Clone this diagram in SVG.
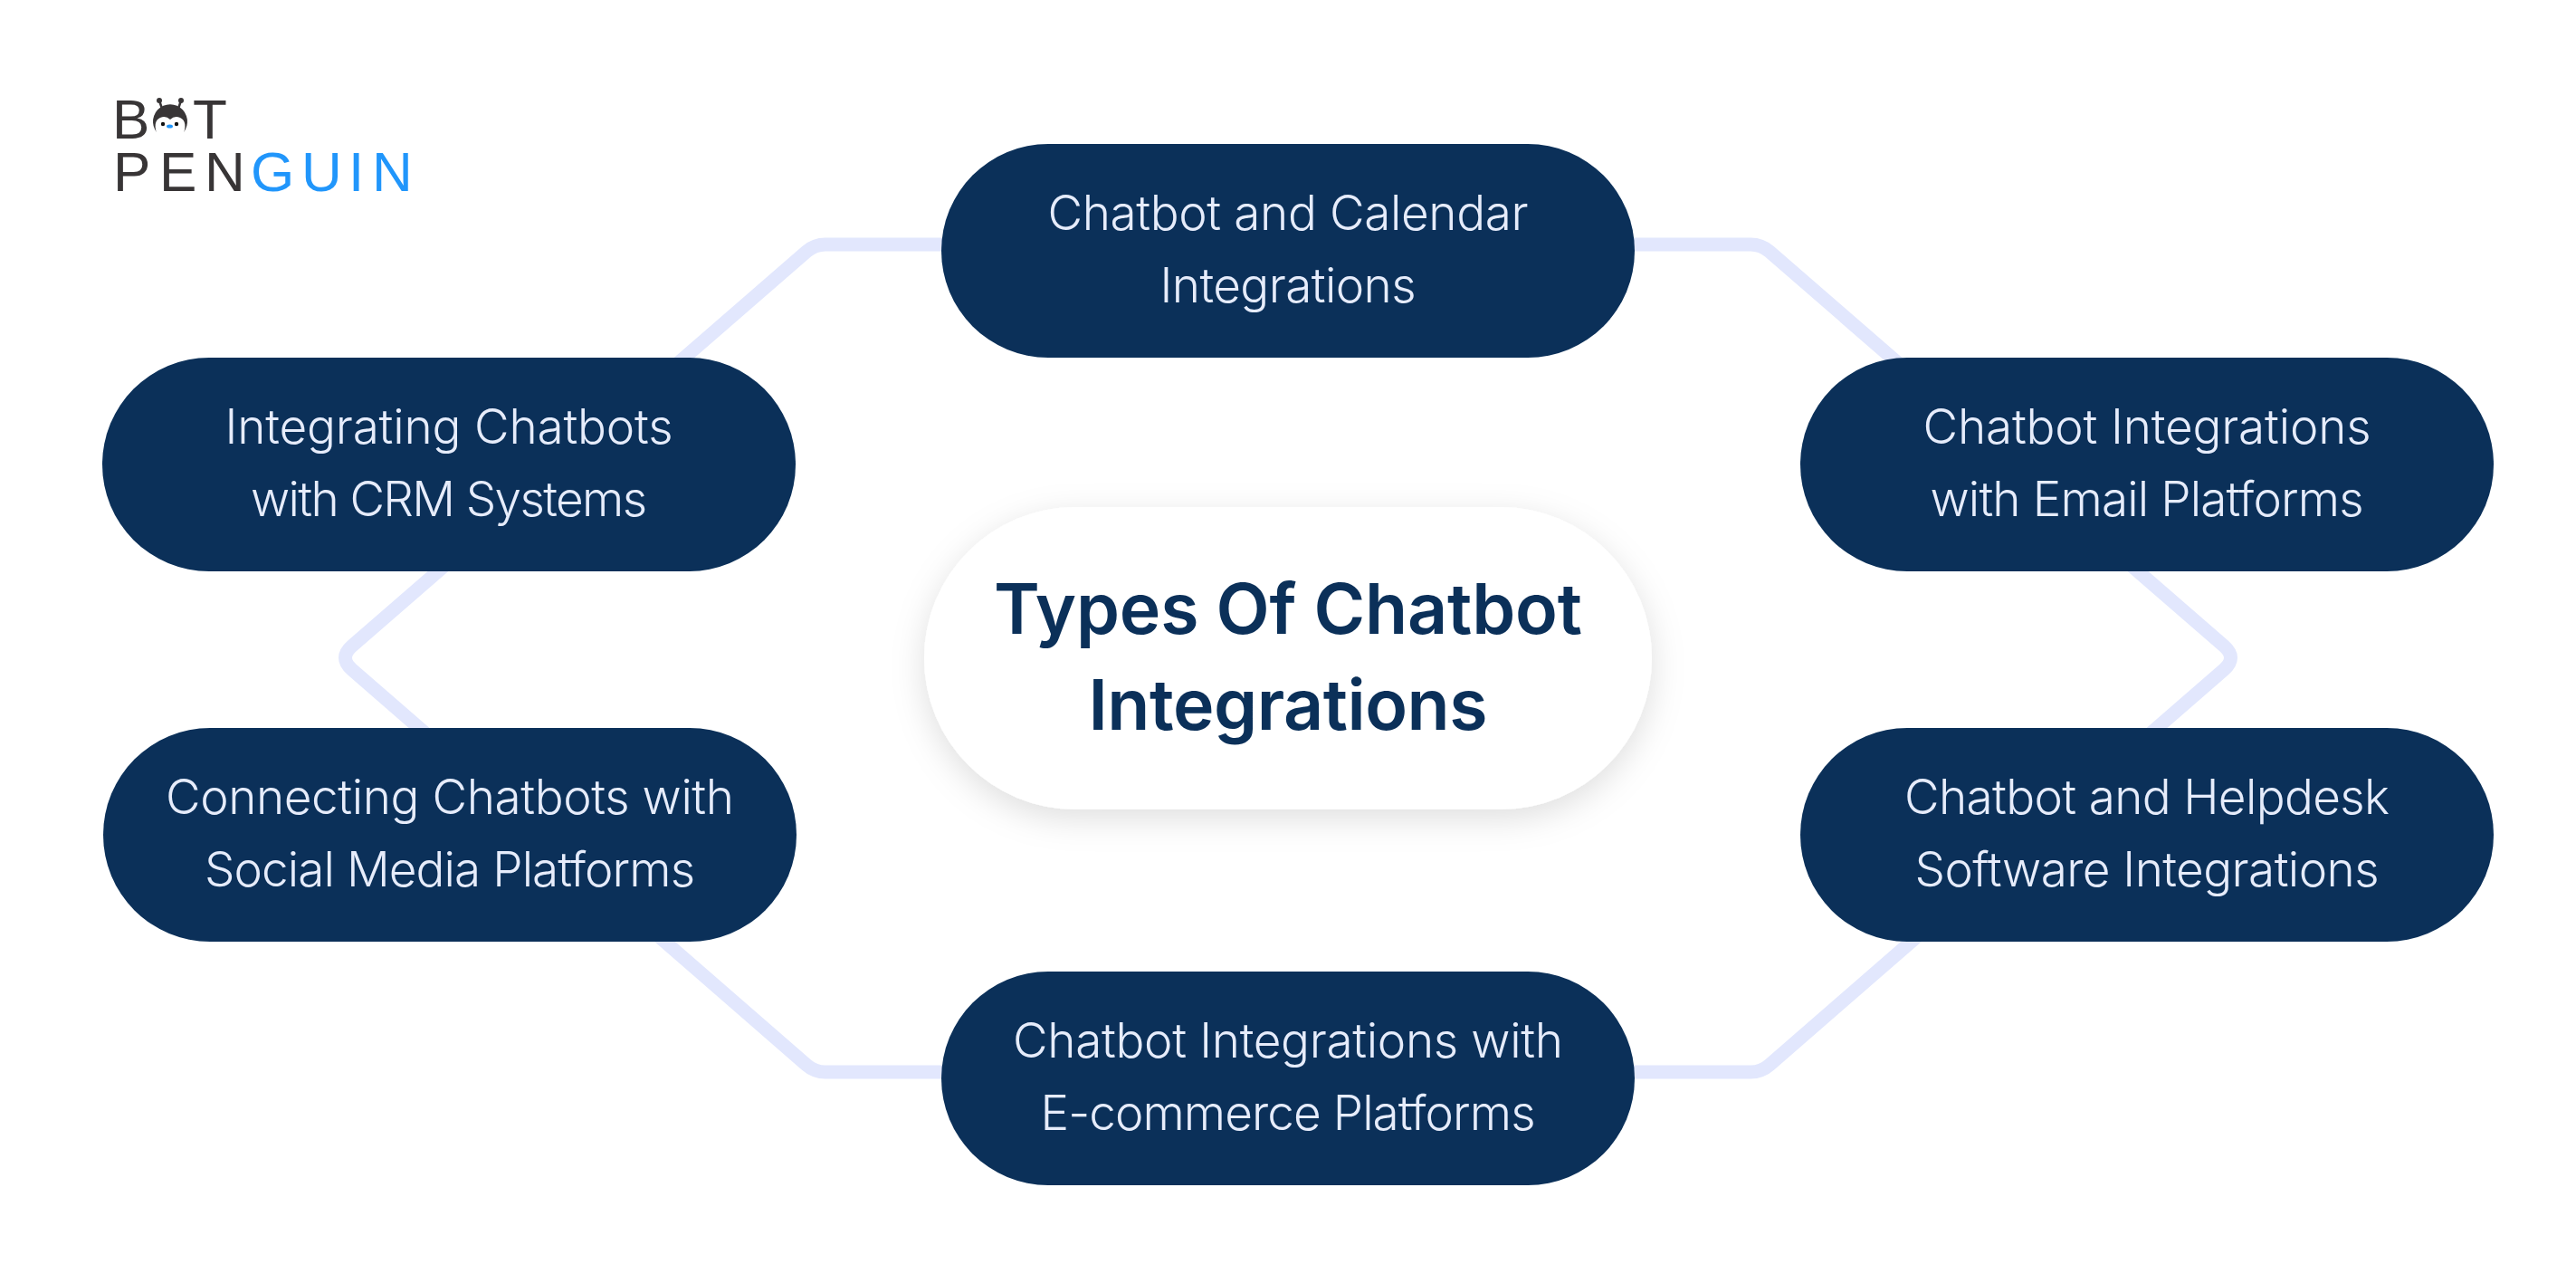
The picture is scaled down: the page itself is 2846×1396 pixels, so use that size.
<svg xmlns="http://www.w3.org/2000/svg" width="2846" height="1396" viewBox="0 0 2846 1396">
  <style>
    .pill { fill: #0b3059; }
    .label { font-family: Inter, "Noto Sans", sans-serif; font-weight: 270; font-size: 53px; fill: #e6ecfb; text-anchor: middle; }
    .title { font-family: Inter, "Noto Sans", sans-serif; font-weight: 600; font-size: 77px; fill: #0b3059; text-anchor: middle; }
    .logo { font-family: "Liberation Sans", Arial, sans-serif; font-size: 62px; }
    .dark { fill: #383536; }
    .blue { fill: #2196fb; }
    .ring { fill: none; stroke: #e2e7fd; stroke-width: 15; stroke-linejoin: round; }
  </style>
  <defs>
    <filter id="soft" x="-15%" y="-25%" width="130%" height="150%">
      <feDropShadow dx="0" dy="10" stdDeviation="18" flood-color="#000000" flood-opacity="0.13"/>
    </filter>
  </defs>
  <rect width="2846" height="1396" fill="#ffffff"/>

  <g id="connectors">
    <path class="ring" d="M912 270H1934Q1946 270 1955 277.9L2457 713.4Q2472 726.5 2457 739.6L1955 1176.1Q1946 1184 1934 1184H912Q900 1184 891 1176.1L389 739.6Q374 726.5 389 713.4L891 277.9Q900 270 912 270Z"/>
  </g>

  <g id="logo">
    <text class="logo dark" x="124" y="153">B</text>
    <text class="logo dark" x="213" y="153">T</text>
    <text class="logo dark" x="125 176 226" y="211">PEN</text>
    <text class="logo blue" x="277 333 385 411" y="211">GUIN</text>
    <g id="logo-penguin">
      <path d="M176 111L179 120M200 111L197 120" stroke="#383536" stroke-width="2.5" fill="none"/>
      <circle class="dark" cx="176" cy="111" r="3"/>
      <circle class="dark" cx="200" cy="111" r="3"/>
      <path class="dark" d="M176 149A19 19 0 1 1 200 149Z"/>
      <path d="M174 150Q168 134 177 130Q183 127 188 132Q193 127 199 130Q208 134 202 150Q196 153 188 153Q180 153 174 150Z" fill="#ffffff"/>
      <circle cx="180" cy="137" r="2.2" fill="#111111"/>
      <circle cx="195" cy="137" r="2.2" fill="#111111"/>
      <ellipse class="blue" cx="187.5" cy="139.5" rx="3.5" ry="2"/>
    </g>
  </g>

  <g id="node-calendar">
    <rect class="pill" x="1040" y="159" width="766" height="236" rx="118"/>
    <text class="label" x="1423" y="254" textLength="531">Chatbot and Calendar</text>
    <text class="label" x="1423" y="334" textLength="283">Integrations</text>
  </g>
  <g id="node-crm">
    <rect class="pill" x="113" y="395" width="766" height="236" rx="118"/>
    <text class="label" x="496" y="490" textLength="495">Integrating Chatbots</text>
    <text class="label" x="496" y="570" textLength="438">with CRM Systems</text>
  </g>
  <g id="node-email">
    <rect class="pill" x="1989" y="395" width="766" height="236" rx="118"/>
    <text class="label" x="2372" y="490" textLength="495">Chatbot Integrations</text>
    <text class="label" x="2372" y="570" textLength="479">with Email Platforms</text>
  </g>
  <g id="node-social">
    <rect class="pill" x="114" y="804" width="766" height="236" rx="118"/>
    <text class="label" x="497" y="899" textLength="628">Connecting Chatbots with</text>
    <text class="label" x="497" y="979" textLength="542">Social Media Platforms</text>
  </g>
  <g id="node-helpdesk">
    <rect class="pill" x="1989" y="804" width="766" height="236" rx="118"/>
    <text class="label" x="2372" y="899" textLength="536">Chatbot and Helpdesk</text>
    <text class="label" x="2372" y="979" textLength="513">Software Integrations</text>
  </g>
  <g id="node-ecommerce">
    <rect class="pill" x="1040" y="1073" width="766" height="236" rx="118"/>
    <text class="label" x="1423" y="1168" textLength="608">Chatbot Integrations with</text>
    <text class="label" x="1423" y="1248" textLength="547">E-commerce Platforms</text>
  </g>
  <g id="node-center">
    <rect x="1021" y="560" width="804" height="334" rx="167" fill="#ffffff" filter="url(#soft)"/>
    <text class="title" x="1423" y="700" textLength="650">Types Of Chatbot</text>
    <text class="title" x="1423" y="806" textLength="441">Integrations</text>
  </g>
</svg>
